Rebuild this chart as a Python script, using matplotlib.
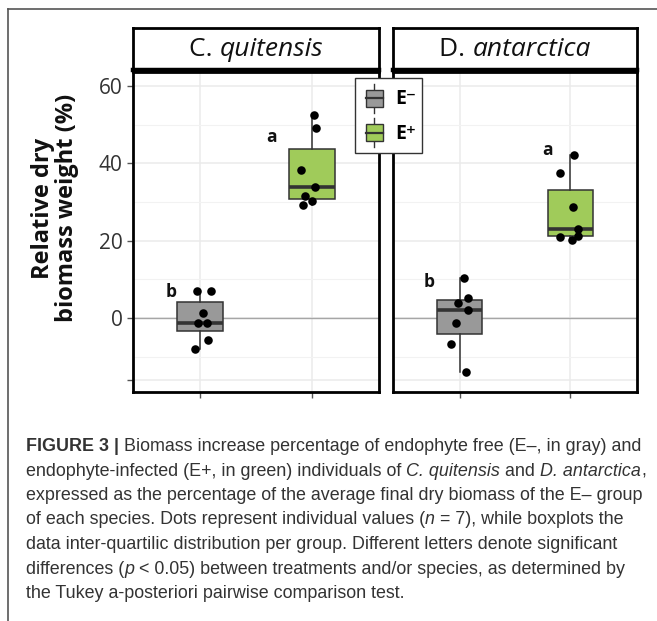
import matplotlib
matplotlib.use('Agg')
import matplotlib.pyplot as plt
from matplotlib.patches import Rectangle
from matplotlib.lines import Line2D
from matplotlib.legend_handler import HandlerBase
import numpy as np

# data
species = ['C. quitensis', 'D. antarctica']
groups = ['E\u207b', 'E\u207a']
cq_eminus = [7.0, 7.0, 1.2, -1.2, -1.2, -5.7, -8.1]
cq_eplus = [52.5, 49.0, 38.4, 33.8, 31.5, 30.2, 29.2]
da_eminus = [10.4, 5.1, 4.0, 2.2, -1.2, -6.8, -13.9]
da_eplus = [42.1, 37.5, 28.6, 22.9, 21.2, 21.0, 20.3]
# horizontal jitter of the dots (category units)
cq_eminus_jit = [-0.03, 0.10, 0.03, -0.02, 0.065, 0.075, -0.045]
cq_eplus_jit = [0.02, 0.035, -0.10, 0.025, -0.06, 0.0, -0.08]
da_eminus_jit = [0.04, 0.075, -0.015, 0.08, -0.035, -0.075, 0.06]
da_eplus_jit = [0.03, -0.09, 0.025, 0.07, 0.065, -0.09, 0.01]
letters = [['b', 'a'], ['b', 'a']]
letter_x = [[0.74, 1.64], [0.73, 1.79]]
letter_y = [[6.8, 46.8], [9.4, 43.4]]

values = [[cq_eminus, cq_eplus], [da_eminus, da_eplus]]
jitters = [[cq_eminus_jit, cq_eplus_jit], [da_eminus_jit, da_eplus_jit]]

fills = ['#999999', '#a0cb5a']
edge = '#333333'
W, H = 657, 621
FONT = ['Open Sans', 'DejaVu Sans']
CAP = ['Liberation Sans', 'DejaVu Sans']

fig = plt.figure(figsize=(W / 100, H / 100), dpi=100)
renderer = fig.canvas.get_renderer()


def fx(px):
    return px / W


def fy(py):
    return 1 - py / H


def seg_width(txt, **kw):
    t = fig.text(0, 0, '|' + txt + '|', **kw)
    w1 = t.get_window_extent(renderer).width
    t.remove()
    t = fig.text(0, 0, '||', **kw)
    w0 = t.get_window_extent(renderer).width
    t.remove()
    return w1 - w0


def draw_segments(x, y, segs, size, family, color, ha='left', va='baseline'):
    styles = {'n': {}, 'b': {'fontweight': 'bold'}, 'i': {'fontstyle': 'italic'}}
    kws = [dict(fontsize=size, family=family, color=color, **styles[s]) for _, s in segs]
    widths = [seg_width(t, **k) for (t, _), k in zip(segs, kws)]
    if ha == 'center':
        x -= sum(widths) / 2
    for (t, _), k, w in zip(segs, kws, widths):
        fig.text(fx(x), fy(y), t, va=va, ha='left', **k)
        x += w


class BoxKey(HandlerBase):
    def create_artists(self, legend, orig_handle, xdescent, ydescent,
                       width, height, fontsize, trans):
        fc = orig_handle.get_facecolor()
        bw = width * 0.62
        bh = height * 0.6
        x0 = -xdescent + (width - bw) / 2
        y0 = -ydescent + (height - bh) / 2
        xc = x0 + bw / 2
        box = Rectangle((x0, y0), bw, bh, facecolor=fc, edgecolor=edge, lw=1.0, transform=trans)
        med = Line2D([x0, x0 + bw], [y0 + bh / 2] * 2, color=edge, lw=1.6, transform=trans)
        w1 = Line2D([xc, xc], [y0 + bh, -ydescent + height], color=edge, lw=1.0, transform=trans)
        w2 = Line2D([xc, xc], [-ydescent, y0], color=edge, lw=1.0, transform=trans)
        return [w1, w2, box, med]


panel_x = [(133, 379), (393, 637)]
for p in range(2):
    x0, x1 = panel_x[p]
    ax = fig.add_axes([fx(x0), fy(392), fx(x1 - x0), (392 - 72) / H])

    bp = ax.boxplot(values[p], positions=[1, 2], widths=0.41, patch_artist=True,
                    showfliers=False, showcaps=False,
                    medianprops=dict(color=edge, lw=2.6),
                    whiskerprops=dict(color=edge, lw=1.1),
                    boxprops=dict(edgecolor=edge, lw=1.1))
    for patch, c in zip(bp['boxes'], fills):
        patch.set_facecolor(c)
    for g in range(2):
        xs = np.array(jitters[p][g]) + g + 1
        ax.scatter(xs, values[p][g], s=38, color='black', zorder=4, lw=0)
        ax.text(letter_x[p][g], letter_y[p][g], letters[p][g], fontsize=12.5,
                fontweight='bold', family=FONT, ha='center', va='center', color='#111111')

    ax.set_xlim(0.4, 2.6)
    ax.set_ylim(-19.1, 63.6)
    ax.set_yticks([0, 20, 40, 60, -16])
    ax.set_yticks([-10, 10, 30, 50], minor=True)
    ax.set_xticks([1, 2])
    ax.set_xticklabels([])
    ax.grid(True, which='major', color='#ebebeb', lw=1.1)
    ax.grid(True, which='minor', axis='y', color='#f2f2f2', lw=0.8)
    ax.set_axisbelow(True)
    ax.axhline(0, color='#a6a6a6', lw=1.0, zorder=1)
    ax.tick_params(axis='both', which='major', length=4, color='#555555', width=1)
    ax.tick_params(axis='y', which='minor', length=0)
    if p == 0:
        ax.set_yticklabels(['0', '20', '40', '60', ''], fontsize=15, family=FONT, color='#333333')
    else:
        ax.tick_params(axis='y', which='major', length=0)
        ax.set_yticklabels([])
    for s in ax.spines.values():
        s.set_linewidth(2.0)
        s.set_color('black')

    # strip on top of each panel
    sax = fig.add_axes([fx(x0), fy(70), fx(x1 - x0), (70 - 28) / H])
    sax.set_xticks([])
    sax.set_yticks([])
    for s in sax.spines.values():
        s.set_linewidth(2.0)
        s.set_color('black')
    sax.spines['bottom'].set_linewidth(3.2)
    genus, epithet = species[p].split(' ')
    draw_segments((x0 + x1) / 2, 49, [(genus + ' ', 'n'), (epithet, 'i')], 19,
                  FONT, '#111111', ha='center', va='center')

fig.text(fx(55), fy(208), 'Relative dry\nbiomass weight (%)', rotation=90,
         ha='center', va='center', fontsize=17, fontweight='bold', family=FONT,
         linespacing=1.05, color='#111111')

handles = [Rectangle((0, 0), 1, 1, facecolor=c) for c in fills]
leg = fig.legend(handles, groups, loc='upper left', bbox_to_anchor=(fx(355), fy(78)),
                 borderaxespad=0, handler_map={Rectangle: BoxKey()},
                 prop=dict(family=FONT, weight='bold', size=14),
                 handlelength=1.4, handleheight=1.9, handletextpad=0.35,
                 labelspacing=0.3, borderpad=0.3, fancybox=False,
                 edgecolor='#333333', framealpha=1)
leg.get_frame().set_linewidth(1.0)

# caption
caption = [
    [('FIGURE 3 |', 'b'), (' Biomass increase percentage of endophyte free (E\u2013, in gray) and', 'n')],
    [('endophyte-infected (E+, in green) individuals of ', 'n'), ('C. quitensis', 'i'),
     (' and ', 'n'), ('D. antarctica', 'i'), (',', 'n')],
    [('expressed as the percentage of the average final dry biomass of the E\u2013 group', 'n')],
    [('of each species. Dots represent individual values (', 'n'), ('n', 'i'),
     (' = 7), while boxplots the', 'n')],
    [('data inter-quartilic distribution per group. Different letters denote significant', 'n')],
    [('differences (', 'n'), ('p', 'i'), (' < 0.05) between treatments and/or species, as determined by', 'n')],
    [('the Tukey a-posteriori pairwise comparison test.', 'n')],
]
for i, line in enumerate(caption):
    draw_segments(26, 451 + i * 24.5, line, 12.9, CAP, '#333333')

# frame of the figure box
fig.add_artist(Line2D([fx(8), 1], [fy(8.5), fy(8.5)], color='#555555', lw=1.2))
fig.add_artist(Line2D([fx(8), fx(8)], [fy(8.5), 0], color='#555555', lw=1.2))

fig.savefig('out.png', dpi=100)
